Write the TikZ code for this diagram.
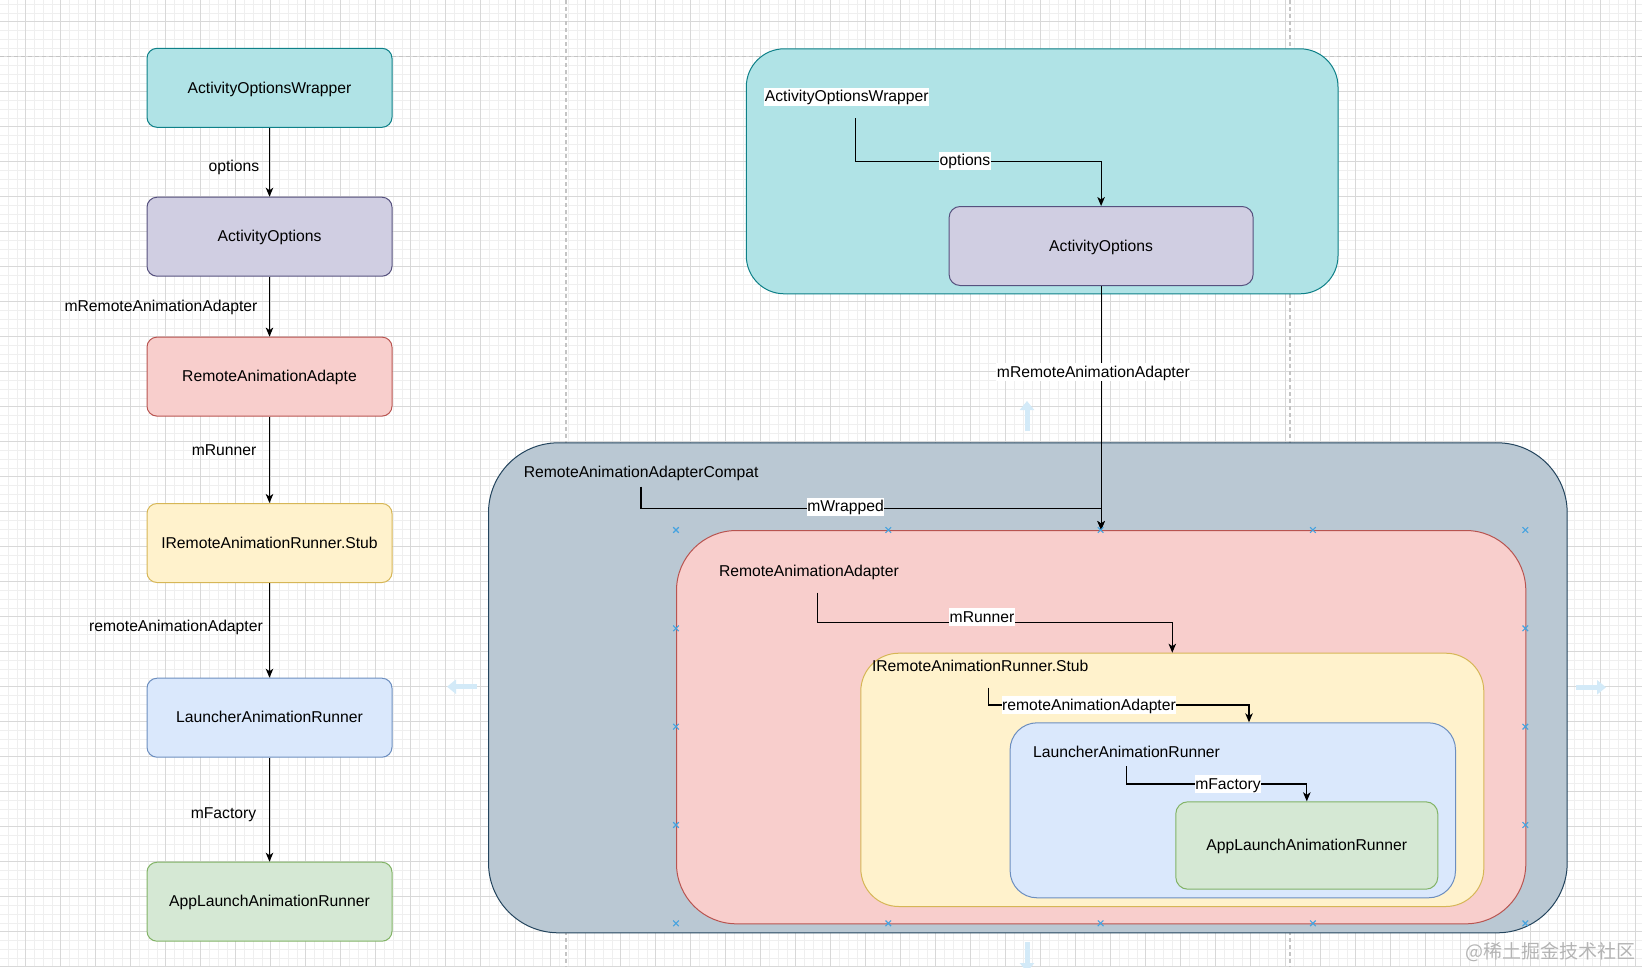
\documentclass[tikz,border=0pt]{standalone}
\usepackage{fontspec}
\setmainfont{Liberation Sans}
\newfontfamily\cjk{Noto Sans CJK SC}
\usetikzlibrary{arrows.meta}
\definecolor{tealF}{HTML}{B0E3E6}\definecolor{tealS}{HTML}{0E8088}
\definecolor{purF}{HTML}{D0CEE2}\definecolor{purS}{HTML}{56517E}
\definecolor{redF}{HTML}{F8CECC}\definecolor{redS}{HTML}{B85450}
\definecolor{yelF}{HTML}{FFF2CC}\definecolor{yelS}{HTML}{D6B656}
\definecolor{bluF}{HTML}{DAE8FC}\definecolor{bluS}{HTML}{6C8EBF}
\definecolor{grnF}{HTML}{D5E8D4}\definecolor{grnS}{HTML}{82B366}
\definecolor{grayF}{HTML}{BAC8D3}\definecolor{grayS}{HTML}{23445D}
\definecolor{gridMinor}{HTML}{EFEFEF}\definecolor{gridMajor}{HTML}{D8D8D8}
\definecolor{pageLine}{HTML}{C4C4C4}\definecolor{handleC}{HTML}{45A3E0}
\definecolor{hoverC}{HTML}{D3EAF8}\definecolor{wmark}{HTML}{B4B4B4}
\begin{document}
\begin{tikzpicture}[x=1pt,y=-1pt,
  font=\fontsize{15.7}{18}\selectfont,
  box/.style={draw, line width=1pt, rounded corners=10pt, inner sep=0pt,
    minimum width=245pt, minimum height=79pt, text height=13pt, text depth=2.5pt},
  cont/.style={draw, line width=1pt, inner sep=0pt, anchor=north west},
  ttl/.style={inner sep=0pt, anchor=west, text height=13pt, text depth=2.5pt},
  lbl/.style={fill=white, inner xsep=0.5pt, inner ysep=1.2pt, text height=13pt, text depth=2.5pt},
  sidelbl/.style={inner sep=0pt, anchor=east, text height=13pt, text depth=2.5pt},
  arr/.style={line width=1.1pt, -{Stealth[length=9pt,width=7.5pt,inset=2.5pt]}},
  gminor/.style={gridMinor, line width=0.8pt},
  gmajor/.style={gridMajor, line width=0.8pt},
  pgline/.style={pageLine, line width=1.2pt, dash pattern=on 4pt off 3pt},
  handle/.style={handleC, line width=1.1pt},
  hover/.style={hoverC, line width=5pt, -{Triangle[length=9pt,width=14pt]}}
]
\useasboundingbox (0,0) rectangle (1642,967);
\clip (0,0) rectangle (1642,967);
\fill[white] (0,0) rectangle (1642,967);
% grid
\foreach \k in {-3,...,186} \draw[gminor] (25.7+8.75*\k,0) -- (25.7+8.75*\k,967);
\foreach \k in {-3,...,109} \draw[gminor] (0,21.7+8.75*\k) -- (1642,21.7+8.75*\k);
\foreach \k in {-1,...,46} \draw[gmajor] (25.7+35*\k,0) -- (25.7+35*\k,967);
\foreach \k in {-1,...,28} \draw[gmajor] (0,21.7+35*\k) -- (1642,21.7+35*\k);
% page break lines
\draw[pgline] (0,56.7) -- (1642,56.7);
\draw[pgline] (566,0) -- (566,967);
\draw[pgline] (1290,0) -- (1290,967);

% ---------------- left column ----------------
\node[box, fill=tealF, draw=tealS] (b1) at (269.5,87.8) {ActivityOptionsWrapper};
\node[box, fill=purF, draw=purS] (b2) at (269.5,236.7) {ActivityOptions};
\node[box, fill=redF, draw=redS] (b3) at (269.5,376.6) {RemoteAnimationAdapte};
\node[box, fill=yelF, draw=yelS] (b4) at (269.5,543) {IRemoteAnimationRunner.Stub};
\node[box, fill=bluF, draw=bluS] (b5) at (269.5,717.7) {LauncherAnimationRunner};
\node[box, fill=grnF, draw=grnS] (b6) at (269.5,901.7) {AppLaunchAnimationRunner};
\draw[arr] (b1) -- (b2);
\draw[arr] (b2) -- (b3);
\draw[arr] (b3) -- (b4);
\draw[arr] (b4) -- (b5);
\draw[arr] (b5) -- (b6);
\node[sidelbl] (l1) at (259.5,166.7) {options};
\node[sidelbl] (l2) at (257.6,306.7) {mRemoteAnimationAdapter};
\node[sidelbl] (l3) at (256.6,450.3) {mRunner};
\node[sidelbl] (l4) at (263,626.7) {remoteAnimationAdapter};
\node[sidelbl] (l5) at (256.4,813.3) {mFactory};

% ---------------- right: nested containers ----------------
\node[cont, fill=tealF, draw=tealS, rounded corners=38pt, minimum width=591.7pt, minimum height=245pt] (tealC) at (745.8,48.3) {};
\node[cont, fill=purF, draw=purS, rounded corners=11pt, minimum width=304pt, minimum height=79pt] (ao) at (948.6,206) {};
\node at (ao.center) [inner sep=0pt, text height=13pt, text depth=2.5pt] (aoT) {ActivityOptions};

\node[cont, fill=grayF, draw=grayS, rounded corners=70pt, minimum width=1078.7pt, minimum height=490pt] (grayC) at (488,442.3) {};
\node[cont, fill=redF, draw=redS, rounded corners=60pt, minimum width=849.3pt, minimum height=393.3pt] (redC) at (676,530) {};
\node[cont, fill=yelF, draw=yelS, rounded corners=38pt, minimum width=623pt, minimum height=253.3pt] (yelC) at (860.3,652.7) {};
\node[cont, fill=bluF, draw=bluS, rounded corners=27pt, minimum width=445.4pt, minimum height=175pt] (bluC) at (1009.6,722.3) {};
\node[cont, fill=grnF, draw=grnS, rounded corners=12pt, minimum width=262pt, minimum height=87.4pt] (grnC) at (1175.3,801.3) {};
\node at (grnC.center) [inner sep=0pt, text height=13pt, text depth=2.5pt] (grnT) {AppLaunchAnimationRunner};

% container titles
\node[ttl, fill=white, inner xsep=0.5pt, inner ysep=1.2pt] (tW) at (764.2,96.7) {ActivityOptionsWrapper};
\node[ttl] (tC) at (523.6,472.3) {RemoteAnimationAdapterCompat};
\node[ttl] (tR) at (718.8,571.7) {RemoteAnimationAdapter};
\node[ttl] (tY) at (871.8,666) {IRemoteAnimationRunner.Stub};
\node[ttl] (tB) at (1033,752.3) {LauncherAnimationRunner};

% connector starts
\coordinate (s1) at (855.4,118.3);
\coordinate (s2) at (641,486.7);
\coordinate (s3) at (817.9,592.7);
\coordinate (s4) at (988.5,687.7);
\coordinate (s5) at (1126.3,766);

\draw[arr] (s1) -- ++(0,43.4) -| (ao.north);
\draw[arr] (ao.south) -- (ao.south |- redC.north);
\draw[arr] (s2) -- ++(0,21.6) -| (ao.south |- redC.north);
\draw[arr] (s3) -- ++(0,29.6) -| (yelC.north);
\draw[arr] (s4) -- ++(0,17.3) -| ([xshift=239.4pt]bluC.north west);
\draw[arr] (s5) -- ++(0,18) -| (grnC.north);

\node[lbl] (e1) at (965,160.7) {options};
\node[lbl] (e2) at (1093.4,371.8) {mRemoteAnimationAdapter};
\node[lbl] (e3) at (845.6,506.7) {mWrapped};
\node[lbl] (e4) at (982,617.3) {mRunner};
\node[lbl] (e5) at (1089,705) {remoteAnimationAdapter};
\node[lbl] (e6) at (1228,784) {mFactory};

% connection handles on red container
\foreach \px/\py in {676/530, 888.3/530, 1100.6/530, 1312.9/530, 1525.3/530,
    676/628.3, 676/726.7, 676/825, 676/923.3,
    1525.3/628.3, 1525.3/726.7, 1525.3/825, 1525.3/923.3,
    888.3/923.3, 1100.6/923.3, 1312.9/923.3}
  \draw[handle] (\px-2.8,\py-2.8) -- (\px+2.8,\py+2.8) (\px-2.8,\py+2.8) -- (\px+2.8,\py-2.8);

% hover arrows
\draw[hover] (1027,431) -- (1027,401);
\draw[hover] (477,686.7) -- (447,686.7);
\draw[hover] (1576,687.3) -- (1606,687.3);
\draw[hover] (1027,942) -- (1027,972);

% watermark
\node[anchor=east, inner sep=0pt, text=wmark, font=\cjk\fontsize{19}{22}\selectfont] (wm) at (1636,951.7) {@稀土掘金技术社区};
\end{tikzpicture}
\end{document}
